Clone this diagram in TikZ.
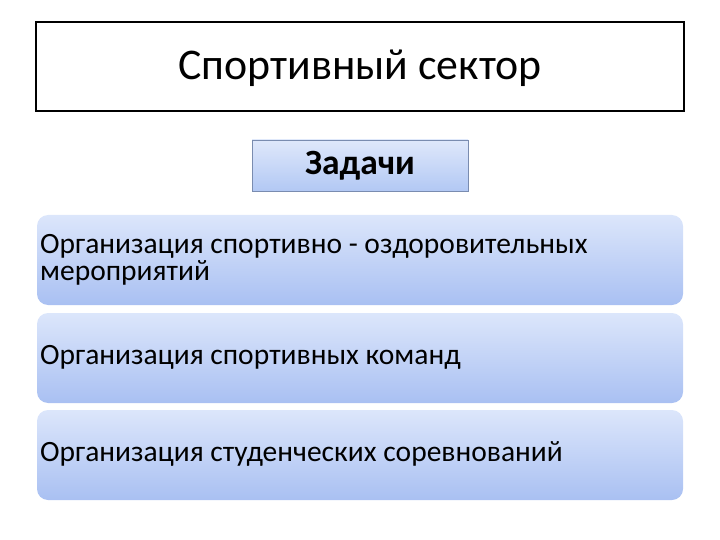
\documentclass[tikz,border=0pt]{standalone}
\usepackage{fontspec}
\setmainfont{Carlito}
\definecolor{gtop}{HTML}{DCE6FB}
\definecolor{gbot}{HTML}{A9C0F2}
\definecolor{ztop}{HTML}{DFE8FB}
\definecolor{zbot}{HTML}{B2C8F4}
\definecolor{zedge}{HTML}{7A8CB0}
\tikzset{
  titlebox/.style={draw=black, line width=1.6pt, minimum width=648pt, minimum height=89pt, inner sep=0pt},
  taskhead/.style={draw=zedge, line width=0.6pt, top color=ztop, bottom color=zbot, minimum width=216pt, minimum height=51pt, inner sep=0pt, font=\bfseries\fontsize{35.5}{40}\selectfont},
  taskbox/.style={rounded corners=11pt, top color=gtop, bottom color=gbot, minimum width=646pt, minimum height=90pt, inner sep=0pt},
  tasktext/.style={anchor=west, align=left, inner sep=0pt, font=\fontsize{29.5}{27.5}\selectfont}
}
\begin{document}
\begin{tikzpicture}[x=1pt,y=1pt]
\useasboundingbox (0,0) rectangle (720,-540);
\node[titlebox] (title) at (360,-66.5) {};
\node (titletxt) at (360,-68) {\fontsize{43.8}{48}\selectfont Спортивный сектор};
\node[taskhead] (head) at (360,-165.5) {Задачи};
\node[taskbox] (b1) at (360,-260) {};
\node[taskbox] (b2) at (360,-358) {};
\node[taskbox] (b3) at (360,-455) {};
\node[tasktext] (t1) at (40,-260) {Организация спортивно - оздоровительных\\мероприятий};
\node[tasktext] (t2) at (40,-357) {Организация спортивных команд};
\node[tasktext] (t3) at (40,-454) {Организация студенческих соревнований};
\end{tikzpicture}
\end{document}
